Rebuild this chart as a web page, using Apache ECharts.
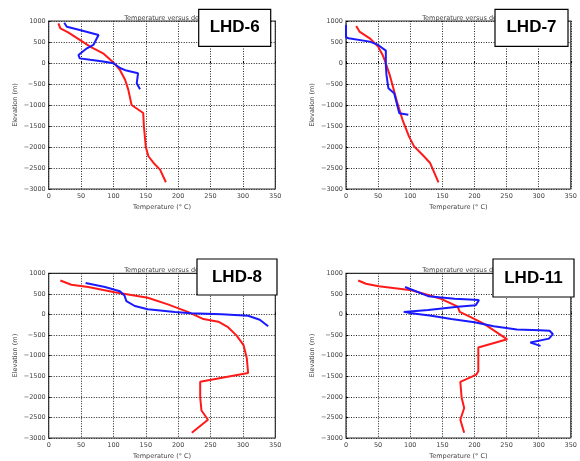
<!DOCTYPE html>
<html>
<head>
<meta charset="utf-8">
<script src="https://cdn.jsdelivr.net/npm/echarts@6/dist/echarts.min.js"></script>
<style>html,body{margin:0;padding:0;background:#fff;}#c{width:580px;height:461px;}</style>
</head>
<body>
<div id="c"></div>
<script>
// Tick values
var xTicks = [0, 50, 100, 150, 200, 250, 300, 350];
var yTicks = [1000, 500, 0, -500, -1000, -1500, -2000, -2500, -3000];
var wellNames = ['LHD-6', 'LHD-7', 'LHD-8', 'LHD-11'];

// [temperature (°C), elevation (m)]
var lhd6Red = [[15,945],[18,825],[30,730],[48,550],[64,390],[84,230],[100,10],[110,-165],[118,-400],[123,-640],[128,-1000],[146,-1190],[147,-1500],[150,-2000],[154,-2220],[162,-2380],[172,-2540],[181,-2840]];
var lhd6Blue = [[24,960],[28,865],[48,785],[77,667],[69,430],[59,350],[46,190],[48,110],[64,75],[84,35],[100,-5],[111,-125],[120,-180],[138,-245],[136,-480],[134,-520],[141,-625]];
var lhd7Red = [[16,881],[21,747],[37,588],[50,390],[57,192],[62,-6],[68,-283],[73,-560],[80,-956],[88,-1352],[98,-1748],[106,-1986],[119,-2184],[131,-2382],[144,-2841]];
var lhd7Blue = [[0,905],[0,612],[4,588],[37,509],[50,430],[62,295],[62,-45],[63,-283],[66,-600],[75,-718],[83,-1194],[84,-1233],[97,-1233]];
var lhd8Red = [[18,825],[35,722],[61,667],[102,540],[153,405],[184,246],[215,63],[239,-111],[262,-175],[277,-310],[290,-508],[301,-746],[306,-1063],[308,-1421],[234,-1635],[234,-2016],[236,-2333],[246,-2556],[221,-2873]];
var lhd8Blue = [[57,762],[87,667],[110,563],[117,460],[120,325],[133,206],[153,127],[195,63],[220,32],[267,8],[308,-32],[326,-127],[339,-286]];
var lhd11Red = [[19,825],[31,746],[51,683],[102,587],[148,381],[174,190],[177,63],[195,-71],[215,-230],[251,-603],[206,-802],[206,-1381],[203,-1460],[178,-1635],[180,-2016],[184,-2270],[178,-2556],[184,-2873]];
var lhd11Blue = [[92,667],[128,444],[169,381],[207,349],[202,222],[174,190],[128,111],[90,63],[102,32],[133,-32],[164,-111],[200,-190],[230,-286],[266,-365],[302,-381],[317,-397],[322,-476],[323,-508],[316,-587],[287,-683],[303,-762]];

var reds = [lhd6Red, lhd7Red, lhd8Red, lhd11Red];
var blues = [lhd6Blue, lhd7Blue, lhd8Blue, lhd11Blue];

var grids = [
  {left: 48.7, top: 21, width: 226.6, height: 168},
  {left: 346, top: 21, width: 228, height: 168},
  {left: 48.7, top: 273.3, width: 226.6, height: 168},
  {left: 346, top: 273.3, width: 228, height: 168}
];
var boxes = [
  {x: 198.7, y: 9.3, w: 72, h: 37},
  {x: 495, y: 9.3, w: 73, h: 37},
  {x: 197, y: 259, w: 80, h: 36},
  {x: 493, y: 259, w: 81, h: 38}
];

var FONT = 'DejaVu Sans';
function fmt(v){ return v < 0 ? '\u2212' + Math.abs(v) : String(v); }

var option = {
  backgroundColor: '#fff',
  animation: false,
  grid: grids.map(function(g){ return {left: g.left, top: g.top, width: g.width, height: g.height, show: true, borderColor: '#333', borderWidth: 1.2, backgroundColor: 'transparent'}; }),
  xAxis: grids.map(function(g, i){
    return {
      type: 'value', gridIndex: i, min: xTicks[0], max: xTicks[xTicks.length-1], interval: 50,
      name: 'Temperature (\u00b0 C)', nameLocation: 'middle', nameGap: 15,
      nameTextStyle: {fontFamily: FONT, fontSize: 6.5, color: '#444'},
      axisLine: {show: false},
      axisTick: {show: true, inside: true, length: 2, lineStyle: {color: '#000'}},
      axisLabel: {fontFamily: FONT, fontSize: 6.5, color: '#444', margin: 4, formatter: fmt},
      splitLine: {show: true, lineStyle: {color: '#222', type: [1, 1.5], width: 1}}
    };
  }),
  yAxis: grids.map(function(g, i){
    return {
      type: 'value', gridIndex: i, min: -3000, max: 1000, interval: 500,
      name: 'Elevation (m)', nameLocation: 'middle', nameGap: 30, nameRotate: 90,
      nameTextStyle: {fontFamily: FONT, fontSize: 6.5, color: '#444'},
      axisLine: {show: false},
      axisTick: {show: true, inside: true, length: 2, lineStyle: {color: '#000'}},
      axisLabel: {fontFamily: FONT, fontSize: 6.5, color: '#444', margin: 3, formatter: fmt},
      splitLine: {show: true, lineStyle: {color: '#222', type: [1, 1.5], width: 1}}
    };
  }),
  title: grids.map(function(g){
    return {text: 'Temperature versus depth', left: g.left + g.width/2, top: g.top - 11, textAlign: 'center',
      textStyle: {fontFamily: FONT, fontSize: 6.5, fontWeight: 'normal', color: '#444'}};
  }),
  series: [],
  graphic: []
};

for (var i = 0; i < 4; i++) {
  option.series.push({type: 'line', xAxisIndex: i, yAxisIndex: i, data: reds[i], showSymbol: false, symbol: 'none', lineStyle: {color: '#ff1a1a', width: 2}, z: 3});
  option.series.push({type: 'line', xAxisIndex: i, yAxisIndex: i, data: blues[i], showSymbol: false, symbol: 'none', lineStyle: {color: '#1a1aff', width: 2}, z: 4});
  var b = boxes[i];
  option.graphic.push({type: 'rect', shape: {x: b.x, y: b.y, width: b.w, height: b.h}, style: {fill: '#fff', stroke: '#000', lineWidth: 1.2}, z: 100});
  option.graphic.push({type: 'text', x: b.x + b.w/2, y: b.y + b.h/2, style: {text: wellNames[i], fontFamily: 'Liberation Sans', fontWeight: 'bold', fontSize: 17, fill: '#000', align: 'center', verticalAlign: 'middle'}, z: 101});
}

var chart = echarts.init(document.getElementById('c'), null, {renderer: 'canvas'});
chart.setOption(option);
</script>
</body>
</html>
